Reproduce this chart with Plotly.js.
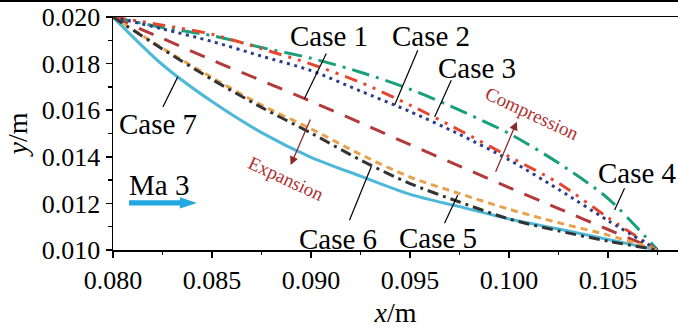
<!DOCTYPE html>
<html>
<head>
<meta charset="utf-8">
<script src="https://cdn.plot.ly/plotly-3.0.1.min.js"></script>
<style>
html,body{margin:0;padding:0;background:#fff;overflow:hidden;}
#chart{width:678px;height:329px;}
</style>
</head>
<body>
<div id="chart"></div>
<script>
// ---- data ----
const xValues = [0.080, 0.0825, 0.085, 0.0875, 0.090, 0.0925, 0.095, 0.0975, 0.100, 0.1025, 0.105, 0.1075];
const case1Y = [0.0200, 0.01908, 0.01815, 0.01727, 0.01638, 0.01546, 0.01452, 0.01360, 0.01268, 0.01178, 0.01088, 0.0100];
const case2Y = [0.0200, 0.01949, 0.01895, 0.01832, 0.01770, 0.01682, 0.01594, 0.01496, 0.01387, 0.01260, 0.01126, 0.0100];
const case3Y = [0.0200, 0.01965, 0.01926, 0.01864, 0.01798, 0.01719, 0.01622, 0.01514, 0.01401, 0.01287, 0.01139, 0.0100];
const case4Y = [0.0200, 0.01955, 0.01920, 0.01869, 0.01823, 0.01763, 0.01690, 0.01600, 0.01500, 0.01373, 0.01221, 0.0100];
const case5Y = [0.0200, 0.01866, 0.01740, 0.01622, 0.01520, 0.01410, 0.01313, 0.01242, 0.01175, 0.01117, 0.01064, 0.0100];
const case6Y = [0.0200, 0.01862, 0.01732, 0.01612, 0.01502, 0.01386, 0.01285, 0.01206, 0.01133, 0.01082, 0.01038, 0.0100];
const case7Y = [0.0200, 0.01795, 0.01637, 0.01504, 0.01398, 0.01317, 0.01239, 0.01186, 0.01133, 0.01090, 0.01045, 0.0100];
const caseNames = ["Case 1", "Case 2", "Case 3", "Case 4", "Case 5", "Case 6", "Case 7"];
const xTickVals = [0.080, 0.085, 0.090, 0.095, 0.100, 0.105];
const xTickText = ["0.080", "0.085", "0.090", "0.095", "0.100", "0.105"];
const yTickVals = [0.010, 0.012, 0.014, 0.016, 0.018, 0.020];
const yTickText = ["0.010", "0.012", "0.014", "0.016", "0.018", "0.020"];

// ---- styles ----
const seriesY = [case1Y, case2Y, case3Y, case4Y, case5Y, case6Y, case7Y];
const styles = [
  {color: "#b33a3a", dash: "16px,12px", width: 3},
  {color: "#2b3d8c", dash: "3px,4.5px", width: 3},
  {color: "#e8452e", dash: "13px,7px,3px,7px,3px,7px", width: 3},
  {color: "#17a079", dash: "18px,7px,3px,7px", width: 3},
  {color: "#e9a14c", dash: "7px,5px", width: 3},
  {color: "#333333", dash: "11px,5px,3px,5px", width: 3},
  {color: "#4db8d8", dash: "solid", width: 3}
];
// draw order: back to front
const order = [6, 0, 3, 2, 1, 4, 5];
const traces = order.map(i => ({
  x: xValues, y: seriesY[i], type: "scatter", mode: "lines", name: caseNames[i],
  line: {color: styles[i].color, dash: styles[i].dash, width: styles[i].width, shape: "spline", smoothing: 0.8},
  hoverinfo: "skip"
}));

const serif = "'Liberation Serif', 'Times New Roman', serif";
const labelFont = {family: serif, size: 29, color: "#000"};
const redFont = {family: serif, size: 19, color: "#b03030"};

function label(text, x, y) {
  return {text: text, x: x, y: y, xref: "x", yref: "y", showarrow: false,
          xanchor: "center", yanchor: "middle", font: labelFont};
}
function callout(x0, y0, x1, y1) {
  return {type: "line", xref: "x", yref: "y", x0: x0, y0: y0, x1: x1, y1: y1,
          line: {color: "#000", width: 1.2}};
}
function redArrow(xh, yh, xt, yt) {
  return {text: "", x: xh, y: yh, ax: xt, ay: yt, xref: "x", yref: "y", axref: "x", ayref: "y",
          showarrow: true, arrowhead: 2, arrowsize: 1.3, arrowwidth: 1.3, arrowcolor: "#8c2a2a"};
}

const annotations = [
  label(caseNames[0], 0.09093, 0.01918),
  label(caseNames[1], 0.09606, 0.01918),
  label(caseNames[2], 0.09838, 0.01781),
  label(caseNames[3], 0.10646, 0.01330),
  label(caseNames[4], 0.09641, 0.01051),
  label(caseNames[5], 0.09134, 0.01047),
  label(caseNames[6], 0.08225, 0.01541),
  label("Ma 3", 0.08232, 0.01279),
  {text: "Compression", x: 0.10116, y: 0.01588, xref: "x", yref: "y", showarrow: false,
   textangle: 25, font: redFont, xanchor: "center", yanchor: "middle"},
  {text: "Expansion", x: 0.08874, y: 0.01309, xref: "x", yref: "y", showarrow: false,
   textangle: 25, font: redFont, xanchor: "center", yanchor: "middle"},
  redArrow(0.08897, 0.013648, 0.09000, 0.015665),
  redArrow(0.10039, 0.015506, 0.09929, 0.013292)
];

const shapes = [
  callout(0.09077, 0.01843, 0.08967, 0.01650),
  callout(0.09539, 0.01857, 0.09422, 0.01622),
  callout(0.09708, 0.01729, 0.09624, 0.01571),
  callout(0.10583, 0.01265, 0.10533, 0.01172),
  callout(0.09674, 0.01115, 0.09741, 0.01236),
  callout(0.09194, 0.01128, 0.09304, 0.01357),
  callout(0.08252, 0.01614, 0.08327, 0.01743),
  // Ma 3 flow arrow
  {type: "path", xref: "x", yref: "y",
   path: "M 0.08081,0.01213 L 0.08338,0.01213 L 0.08338,0.01226 L 0.08424,0.01202 L 0.08338,0.01178 L 0.08338,0.01191 L 0.08081,0.01191 Z",
   fillcolor: "#22a7e0", line: {width: 0}},
  // border line at very top of image
  {type: "line", xref: "paper", yref: "paper", x0: -0.2, x1: 1.0, y0: 1.0687, y1: 1.0687,
   line: {color: "#000", width: 2}}
];

const layout = {
  width: 678, height: 329,
  margin: {l: 113, r: 0, t: 17, b: 79, pad: 0},
  paper_bgcolor: "#fff", plot_bgcolor: "#fff",
  showlegend: false,
  font: {family: serif, color: "#000"},
  xaxis: {
    range: [0.080, 0.10853], showgrid: false, zeroline: false,
    showline: true, linecolor: "#000", linewidth: 1.5, mirror: true,
    ticks: "outside", ticklen: 6, tickwidth: 1.5, tickcolor: "#000",
    tickvals: xTickVals, ticktext: xTickText,
    minor: {ticks: "outside", ticklen: 3.5, tickwidth: 1.5, tickcolor: "#000", dtick: 0.0025, tick0: 0.080, showgrid: false},
    tickfont: {family: serif, size: 26, color: "#000"},
    title: {text: "<i>x</i>/m", font: {family: serif, size: 28, color: "#000"}, standoff: 8}
  },
  yaxis: {
    range: [0.010, 0.020], showgrid: false, zeroline: false,
    showline: true, linecolor: "#000", linewidth: 1.5,
    ticks: "outside", ticklen: 6, tickwidth: 1.5, tickcolor: "#000",
    tickvals: yTickVals, ticktext: yTickText,
    minor: {ticks: "outside", ticklen: 3.5, tickwidth: 1.5, tickcolor: "#000", dtick: 0.001, tick0: 0.010, showgrid: false},
    tickfont: {family: serif, size: 26, color: "#000"},
    title: {text: "<i>y</i>/m", font: {family: serif, size: 28, color: "#000"}, standoff: 6}
  },
  annotations: annotations,
  shapes: shapes
};

Plotly.newPlot("chart", traces, layout, {staticPlot: true, displayModeBar: false});
</script>
</body>
</html>
